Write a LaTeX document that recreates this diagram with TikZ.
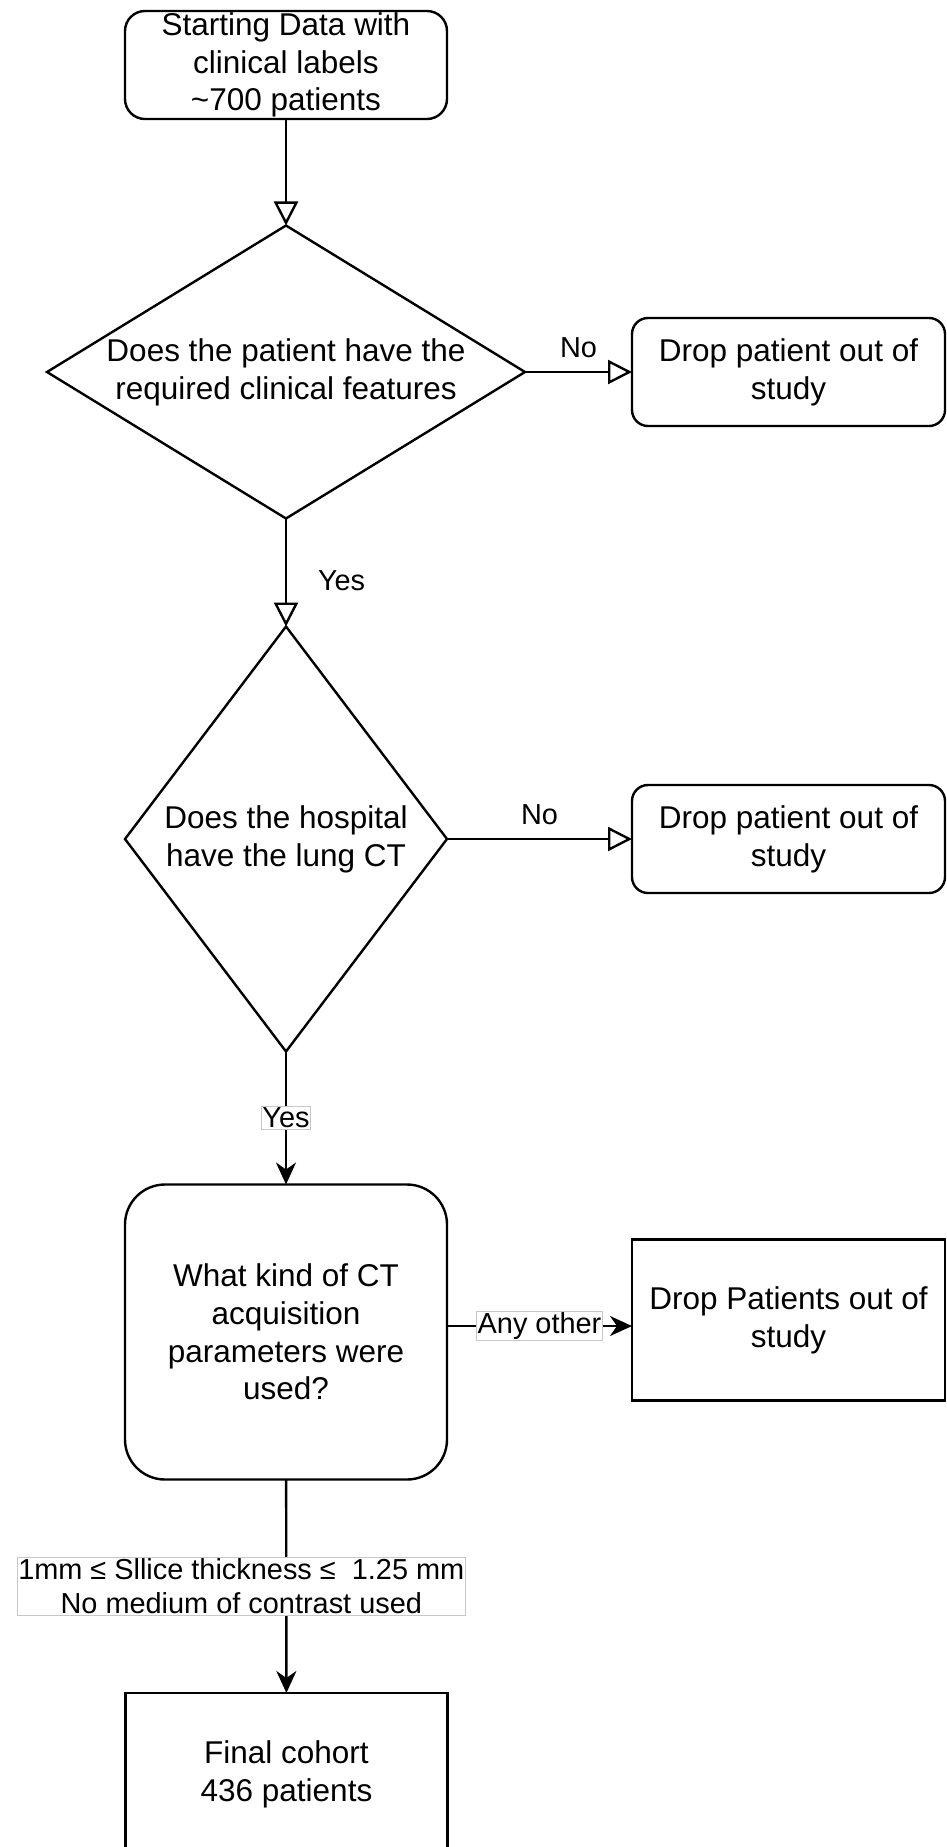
\documentclass[tikz,border=0pt]{standalone}
\usepackage{fontspec}
\setmainfont{Liberation Sans}
\usetikzlibrary{arrows.meta, shapes.geometric}

\begin{document}
\begin{tikzpicture}[x=1pt, y=-1pt, line width=2.4pt,
  every node/.style={font=\fontsize{31.5}{37.8}\selectfont, align=center, inner sep=0pt, outer sep=0pt},
  roundbox/.style={draw, rounded corners=16pt, minimum width=313pt, minimum height=108pt},
  decision/.style={draw, diamond, inner sep=-60pt},
  sharpbox/.style={draw, rectangle, minimum width=313pt, minimum height=161pt},
  plainlabel/.style={font=\fontsize{28.9}{34.7}\selectfont, inner sep=2pt},
  boxedlabel/.style={plainlabel, fill=white, draw=black!22, line width=1pt, inner sep=1pt},
  openarrow/.style={-{Triangle[open, length=24pt, width=24pt]}},
  fullarrow/.style={-{Stealth[length=22pt, width=20pt, inset=7pt]}}]
\useasboundingbox (0,0) rectangle (946,1847);
\clip (0,0) rectangle (946,1847);

% The nodes
\node[draw, rounded corners=20pt, minimum width=322pt, minimum height=108pt] (start) at (286,65) {Starting Data with\\clinical labels\\\textasciitilde700 patients};
\node[decision, minimum width=478pt, minimum height=293pt] (features) at (286,372) {Does the patient have the\\required clinical features};
\node[roundbox] (dropfeat) at (788.5,372) {Drop patient out of\\study};
\node[decision, minimum width=322pt, minimum height=425pt] (lungct) at (286,839) {Does the hospital\\have the lung CT};
\node[roundbox] (dropct) at (788.5,839) {Drop patient out of\\study};
\node[draw, rounded corners=40pt, minimum width=322pt, minimum height=295pt] (params) at (286,1332) {What kind of CT\\acquisition\\parameters were\\used?};
\node[sharpbox] (dropparams) at (788.5,1320) {Drop Patients out of\\study};
\node[sharpbox, minimum width=322pt, minimum height=162pt] (final) at (286.5,1774) {Final cohort\\436 patients};

% The connectors
\draw[openarrow] (start) -- (features);
\draw[openarrow] (features) -- node[plainlabel, midway, above=12pt] {No} (dropfeat);
\draw[openarrow] (features) -- node[plainlabel, pos=.58, right=30pt] {Yes} (lungct);
\draw[openarrow] (lungct) -- node[plainlabel, midway, above=12pt] {No} (dropct);
\draw[fullarrow] (lungct) -- node[boxedlabel, midway] {Yes} (params);
\draw[fullarrow] ([yshift=6pt]params.east) -- node[boxedlabel, midway] {Any other} ([yshift=6pt]params.east -| dropparams.west);
\draw[fullarrow] (params) -- node[boxedlabel, midway, xshift=-45pt] {1mm \char"2264\ Sllice thickness \char"2264\ \ 1.25 mm\\No medium of contrast used} (final);
\end{tikzpicture}
\end{document}
